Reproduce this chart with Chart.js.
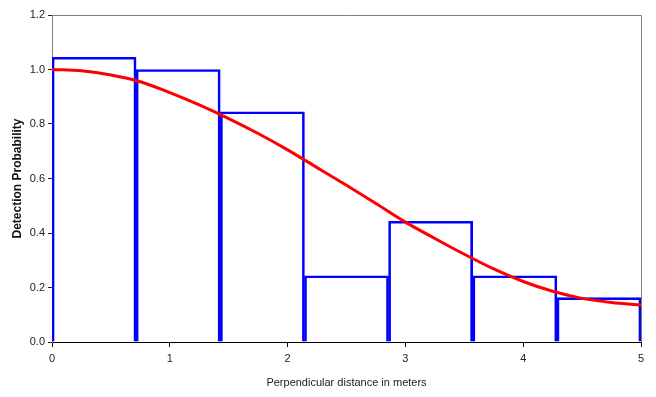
<!DOCTYPE html>
<html>
<head>
<meta charset="utf-8">
<script src="https://cdn.jsdelivr.net/npm/chart.js@4"></script>
<style>
  html, body { margin: 0; padding: 0; background: #fff; }
  #wrap { width: 656px; height: 397px; }
</style>
</head>
<body>
<div id="wrap"><canvas id="myChart" width="656" height="397"></canvas></div>
<script>
// Histogram bins (midpoints of 7 equal bins over 0..5) and heights
const binCenters = [0.357, 1.071, 1.786, 2.5, 3.214, 3.929, 4.643];
const binHeights = [1.045, 1.0, 0.845, 0.243, 0.443, 0.243, 0.163];

// Fitted detection curve
const curveX = [0, 0.25, 0.5, 0.75, 1.0, 1.25, 1.5, 1.75, 2.0, 2.25, 2.5, 2.75, 3.0, 3.25, 3.5, 3.75, 4.0, 4.25, 4.5, 4.75, 5.0];
const curveY = [1.0, 0.995, 0.98, 0.955, 0.915, 0.87, 0.82, 0.765, 0.705, 0.64, 0.575, 0.508, 0.44, 0.38, 0.322, 0.268, 0.222, 0.186, 0.16, 0.145, 0.136];

// Tick labels
const xTicks = [0, 1, 2, 3, 4, 5];
const yTicks = [0, 0.2, 0.4, 0.6, 0.8, 1.0, 1.2];

// frame round the plot area (top and right edges)
const framePlugin = {
  id: 'frame',
  afterDatasetsDraw(chart) {
    const { ctx, chartArea: a } = chart;
    ctx.save();
    ctx.strokeStyle = '#808080';
    ctx.lineWidth = 1;
    ctx.beginPath();
    ctx.moveTo(a.left, a.top + 0.5);
    ctx.lineTo(a.right + 0.5, a.top + 0.5);
    ctx.lineTo(a.right + 0.5, a.bottom);
    ctx.stroke();
    ctx.restore();
  }
};

const ctx = document.getElementById('myChart').getContext('2d');
new Chart(ctx, {
  type: 'bar',
  data: {
    datasets: [
      {
        type: 'line',
        data: curveX.map((x, i) => ({ x: x, y: curveY[i] })),
        borderColor: '#ff0000',
        borderWidth: 3,
        pointRadius: 0,
        tension: 0.4,
        cubicInterpolationMode: 'monotone',
        order: 0
      },
      {
        type: 'bar',
        data: binCenters.map((x, i) => ({ x: x, y: binHeights[i] })),
        backgroundColor: 'rgba(0,0,0,0)',
        borderColor: '#0000ff',
        borderWidth: 2,
        borderSkipped: 'bottom',
        barPercentage: 1,
        categoryPercentage: 1,
        order: 1
      }
    ]
  },
  options: {
    responsive: false,
    animation: false,
    layout: { padding: { top: 15, right: 15, left: 0, bottom: 0 } },
    plugins: {
      legend: { display: false },
      tooltip: { enabled: false }
    },
    scales: {
      x: {
        type: 'linear',
        min: 0,
        max: 5,
        offset: false,
        afterFit: s => { s.height = 55; },
        afterBuildTicks: s => { s.ticks = xTicks.map(v => ({ value: v })); },
        grid: {
          display: true,
          drawOnChartArea: false,
          drawTicks: true,
          tickLength: 5,
          color: '#000',
          offset: false
        },
        border: { color: '#000', width: 1 },
        ticks: {
          color: '#222',
          font: { family: 'Liberation Sans, Arial', size: 11 },
          padding: 5,
          maxRotation: 0
        },
        title: {
          display: true,
          text: 'Perpendicular distance in meters',
          color: '#222',
          font: { family: 'Liberation Sans, Arial', size: 11 },
          padding: { top: 0, bottom: 7 }
        }
      },
      y: {
        min: 0,
        max: 1.2,
        afterFit: s => { s.width = 52; },
        afterBuildTicks: s => { s.ticks = yTicks.map(v => ({ value: v })); },
        grid: {
          display: true,
          drawOnChartArea: false,
          drawTicks: true,
          tickLength: 4,
          color: '#222'
        },
        border: { color: '#808080', width: 1 },
        ticks: {
          color: '#222',
          font: { family: 'Liberation Sans, Arial', size: 11 },
          padding: 3,
          callback: v => v.toFixed(1)
        },
        title: {
          display: true,
          text: 'Detection Probability',
          color: '#111',
          font: { family: 'Liberation Sans, Arial', size: 12, weight: 'bold' },
          padding: { top: 10, bottom: 0 }
        }
      }
    }
  },
  plugins: [framePlugin]
});
</script>
</body>
</html>
